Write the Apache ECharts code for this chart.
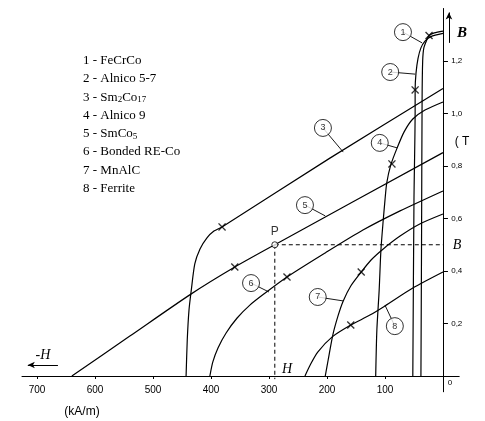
<!DOCTYPE html>
<html><head><meta charset="utf-8">
<script src="https://cdn.jsdelivr.net/npm/echarts@6/dist/echarts.min.js"></script>
<style>html,body{margin:0;padding:0;background:#fff}#c{width:485px;height:421px}</style>
</head><body><div id="c"></div>
<script>
// ---- data (H in kA/m, B in T) ----
const names = ['1 - FeCrCo','2 - Alnico 5-7','3 - Sm2Co17','4 - Alnico 9','5 - SmCo5','6 - Bonded RE-Co','7 - MnAlC','8 - Ferrite'];
const H1 = [38, 37, 36, 35, 33, 28, 24, 15, 0];
const B1 = [0, 0.48, 1.05, 1.20, 1.25, 1.28, 1.297, 1.307, 1.314];
const H2 = [52, 50, 48, 48, 46.5, 43, 38, 31, 21, 0];
const B2 = [0, 0.67, 1.01, 1.09, 1.154, 1.21, 1.25, 1.276, 1.293, 1.305];
const H3 = [443, 441, 438, 434, 428, 419, 407, 395, 381, 195, 0];
const B3 = [0, 0.137, 0.251, 0.328, 0.427, 0.484, 0.526, 0.552, 0.568, 0.83, 1.095];
const H4 = [116, 114, 110, 107, 103, 100, 97, 90, 79, 67, 52, 31, 0];
const B4 = [0, 0.175, 0.328, 0.48, 0.594, 0.67, 0.735, 0.804, 0.869, 0.93, 0.979, 1.013, 1.044];
const H5 = [640, 540, 436, 359, 290, 0];
const B5 = [0, 0.152, 0.31, 0.415, 0.5, 0.851];
const H6 = [402, 397, 388, 374, 355, 333, 309, 269, 203, 138, 74, 0];
const B6 = [0, 0.053, 0.107, 0.164, 0.221, 0.27, 0.312, 0.377, 0.469, 0.556, 0.629, 0.705];
const H7 = [203, 198, 190, 181, 172, 159, 141, 124, 103, 74, 40, 0];
const B7 = [0, 0.061, 0.156, 0.229, 0.286, 0.343, 0.396, 0.442, 0.484, 0.533, 0.579, 0.617];
const H8 = [238, 229, 216, 191, 159, 126, 100, 52, 0];
const B8 = [0, 0.042, 0.091, 0.149, 0.194, 0.232, 0.267, 0.335, 0.396];
// (BH)max markers
const crossH = [24, 48, 381, 88, 359, 269, 141, 159];
const crossB = [1.297, 1.09, 0.568, 0.808, 0.415, 0.377, 0.396, 0.194];
// working point P
const pointP = [290, 0.5];
// tick labels
const xTicks = [100, 200, 300, 400, 500, 600, 700];
const yTicks = [0.2, 0.4, 0.6, 0.8, 1.0, 1.2];

// annotation positions (circled numbers and their leaders)
const tagH = [69, 91, 207, 109, 238, 331, 216, 83];
const tagB = [1.31, 1.158, 0.945, 0.888, 0.651, 0.354, 0.301, 0.19];
const leadH = [36, 48, 172, 79, 203, 300, 172, 100];
const leadB = [1.269, 1.15, 0.853, 0.869, 0.61, 0.32, 0.286, 0.27];

const curvesH = [H1,H2,H3,H4,H5,H6,H7,H8];
const curvesB = [B1,B2,B3,B4,B5,B6,B7,B8];
const zip = (a,b) => a.map((v,i)=>[v,b[i]]);

const serif = '"Liberation Serif", "DejaVu Serif", serif';
const sans = '"Liberation Sans", Arial, sans-serif';

const series = [];
curvesH.forEach((h,i)=>{
  series.push({name:names[i], type:'line', data:zip(h,curvesB[i]), showSymbol:false, smooth:0.25,
    lineStyle:{color:'#000', width:1.2}, itemStyle:{color:'#000'}, z:2, silent:true});
});
tagH.forEach((h,i)=>{
  series.push({type:'line', data:[[h,tagB[i]],[leadH[i],leadB[i]]], showSymbol:false,
    lineStyle:{color:'#000', width:0.9}, z:3, silent:true});
});
series.push({type:'scatter', data:tagH.map((h,i)=>[h,tagB[i],String(i+1)]), symbol:'circle', symbolSize:17,
  itemStyle:{color:'#fff', borderColor:'#000', borderWidth:1}, z:4, silent:true,
  label:{show:true, position:'inside', formatter:p=>p.value[2], color:'#000', fontSize:9, fontFamily:sans}});
series.push({type:'scatter', data:zip(crossH,crossB), symbolSize:8,
  symbol:'path://M0,1.2 L1.2,0 L5,3.8 L8.8,0 L10,1.2 L6.2,5 L10,8.8 L8.8,10 L5,6.2 L1.2,10 L0,8.8 L3.8,5 Z',
  itemStyle:{color:'#000'}, z:5, silent:true});
series.push({type:'line', data:[[pointP[0],pointP[1]],[0,pointP[1]]], showSymbol:false,
  lineStyle:{color:'#000', width:1, type:[4,3]}, z:3, silent:true});
series.push({type:'line', data:[[pointP[0],pointP[1]],[pointP[0],-0.012]], showSymbol:false,
  lineStyle:{color:'#000', width:1, type:[4,3]}, z:3, silent:true});
series.push({type:'scatter', data:[pointP], symbol:'circle', symbolSize:6,
  itemStyle:{color:'#fff', borderColor:'#000', borderWidth:1}, z:6, silent:true,
  label:{show:true, position:'top', distance:4, formatter:'P', color:'#000', fontSize:12, fontFamily:sans}});
// direction arrows
series.push({type:'line', data:[], silent:true,
  markLine:{silent:true, symbol:['none','arrow'], symbolSize:[5,7], label:{show:false},
    lineStyle:{color:'#000', width:1, type:'solid'},
    data:[[{coord:[-10.3,1.269]},{coord:[-10.3,1.385]}], [{coord:[664,0.042]},{coord:[716,0.042]}]]}});

const richName = n => n.replace('Sm2Co17','Sm{s|2}Co{s|17}').replace('SmCo5','SmCo{s|5}');

const option = {
  animation:false,
  backgroundColor:'#fff',
  grid:{left:22, right:25.8, top:8.5, bottom:29.25, containLabel:false, outerBoundsMode:'none'},
  legend:{data:names, orient:'vertical', left:73, top:48, itemWidth:0, itemHeight:14, itemGap:3.3,
    icon:'none', selectedMode:false,
    formatter:richName,
    textStyle:{color:'#000', fontSize:13, fontFamily:serif, lineHeight:15,
      rich:{s:{fontSize:9, fontFamily:serif, lineHeight:9, verticalAlign:'bottom'}}}},
  xAxis:{type:'value', inverse:true, min:-28, max:726,
    axisLine:{onZero:true, lineStyle:{color:'#000', width:1}},
    axisTick:{show:true, customValues:xTicks, length:3, lineStyle:{color:'#000'}},
    axisLabel:{customValues:xTicks, margin:-7, fontSize:10, color:'#000', fontFamily:sans},
    splitLine:{show:false}},
  yAxis:{type:'value', position:'right', min:-0.06, max:1.40,
    axisLine:{onZero:true, lineStyle:{color:'#000', width:1}},
    axisTick:{show:true, customValues:yTicks, length:5, lineStyle:{color:'#000'}},
    axisLabel:{customValues:yTicks, margin:-8, fontSize:8, color:'#000', fontFamily:sans,
      formatter:v=>v.toFixed(1).replace('.',',')},
    splitLine:{show:false}},
  graphic:[
    {type:'text', x:462, y:33, style:{text:'B', font:'italic bold 15px '+serif, align:'center', verticalAlign:'middle', fill:'#000'}},
    {type:'text', x:462, y:142, style:{text:'( T', font:'12px '+sans, align:'center', verticalAlign:'middle', fill:'#000'}},
    {type:'text', x:43, y:355, style:{text:'-H', font:'italic 14px '+serif, align:'center', verticalAlign:'middle', fill:'#000'}},
    {type:'text', x:82, y:412, style:{text:'(kA/m)', font:'12px '+sans, align:'center', verticalAlign:'middle', fill:'#000'}},
    {type:'text', x:287, y:369, style:{text:'H', font:'italic 14px '+serif, align:'center', verticalAlign:'middle', fill:'#000'}},
    {type:'text', x:457, y:245, style:{text:'B', font:'italic 14px '+serif, align:'center', verticalAlign:'middle', fill:'#000'}},
    {type:'text', x:450, y:383, style:{text:'0', font:'8px '+sans, align:'center', verticalAlign:'middle', fill:'#000'}}
  ],
  series:series
};
const chart = echarts.init(document.getElementById('c'));
chart.setOption(option);
</script></body></html>
